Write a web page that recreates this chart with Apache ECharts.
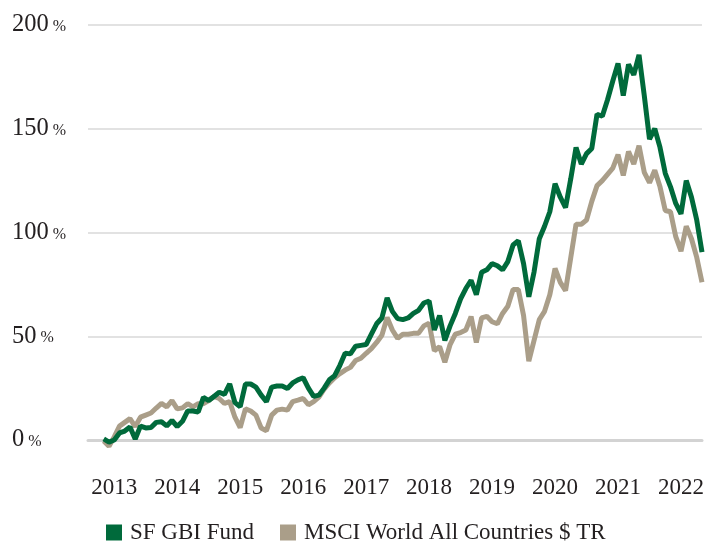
<!DOCTYPE html>
<html>
<head>
<meta charset="utf-8">
<script src="https://cdn.jsdelivr.net/npm/echarts@6/dist/echarts.min.js"></script>
<style>
html,body{margin:0;padding:0;background:#fff;}
#chart{width:707px;height:543px;}
</style>
</head>
<body>
<div id="chart"></div>
<script>
// Monthly categories (3 leading empty months for axis padding), Nov 2012 .. May 2022
const padMonths = ["2012-08", "2012-09", "2012-10"];
const startYear = 2012, startMonth = 11, monthCount = 115;
const months = [];
for (let i = 0; i < monthCount; i++) {
  const m0 = startMonth - 1 + i;
  const y = startYear + Math.floor(m0 / 12);
  const m = (m0 % 12) + 1;
  months.push(y + "-" + (m < 10 ? "0" + m : m));
}
const categories = padMonths.concat(months);

const yTicks = [0, 50, 100, 150, 200];

const sfGbiFund = [
  0.5, -1, 0, 3.4, 4.3, 6.3, 0.5, 6.7, 5.8, 6, 8.5, 8.8, 6.8, 9.4, 6.5, 9,
  14, 14, 13.5, 20.5, 19, 21, 23, 22, 27, 18, 16, 27, 27, 25.5, 21.6, 18.5,
  25.5, 26, 26, 24.8, 27.5, 29, 30, 25, 21, 21.6, 25, 29, 31, 36, 41.8, 41.5,
  45.2, 45.6, 46, 51, 56, 58.8, 68.5, 62, 58.5, 58, 58.8, 61, 62.5, 66, 67, 53,
  60, 48, 55, 61, 68, 73, 77, 70, 80.8, 82, 85, 84, 82, 86, 94, 96,
  85, 69, 81, 97, 103, 110, 123.5, 117, 112, 126, 141, 133, 138, 140.5, 157, 156,
  164, 173, 181.5, 166, 181, 176, 185.6, 166, 145, 150, 141, 128.5, 122, 114, 109, 125,
  117, 106, 90.5
];

const msciWorld = [
  -0.5, -3, 1.5, 6.7, 8.5, 10.3, 6.5, 11, 12, 13, 15.4, 17.6, 16, 19, 15, 15.5,
  17.5, 16, 17.5, 17.5, 19, 21, 20, 17.6, 18.5, 11, 6, 15, 14, 12, 5.8, 4.5,
  12, 14.4, 14.9, 14.4, 18.5, 19.2, 20, 17, 18.5, 20.7, 24.5, 27.5, 30, 32, 33.7, 35,
  38.3, 39.4, 41.8, 44, 47, 50.5, 59, 53, 49, 51, 51, 51.4, 51.5, 55, 56.3, 43,
  45, 37.5, 46, 51, 51.8, 53, 59.5, 47, 58.8, 59.6, 57, 56, 61, 64.5, 72.5, 72.5,
  60, 38, 48, 58, 62, 70, 82.7, 76, 72, 88, 104, 104, 106, 115, 122.6, 125,
  128, 131, 137.5, 127.5, 139, 133, 141.8, 129, 124, 130, 122, 110.6, 110, 98, 91, 103,
  97, 88, 76
];

function padded(arr) {
  return padMonths.map(() => null).concat(arr);
}

const FONT = "Liberation Serif";
const TEXT = "#231f20";
const GREEN = "#006a3b";
const TAN = "#aa9e89";

const chart = echarts.init(document.getElementById('chart'), null, {renderer: 'canvas'});
chart.setOption({
  animation: false,
  backgroundColor: '#fff',
  grid: {left: 88, right: 2, top: 25, bottom: 103, containLabel: false},
  legend: {
    data: ['SF GBI Fund', 'MSCI World All Countries $ TR'],
    left: 101, top: 516,
    icon: 'rect', itemWidth: 16, itemHeight: 16, itemGap: 26,
    textStyle: {fontFamily: FONT, fontSize: 23, color: TEXT, padding: [0, 0, 0, 3]}
  },
  xAxis: {
    type: 'category',
    data: categories,
    boundaryGap: false,
    axisLine: {show: true, onZero: true, lineStyle: {color: '#d3d3d3', width: 3}},
    axisTick: {show: false},
    splitLine: {show: false},
    axisLabel: {
      interval: (idx, val) => val.slice(5) === '01',
      formatter: (val) => val.slice(0, 4),
      margin: 36,
      fontFamily: FONT, fontSize: 23, color: TEXT
    }
  },
  yAxis: {
    type: 'value',
    min: yTicks[0], max: yTicks[yTicks.length - 1], interval: 50,
    axisLine: {show: false},
    axisTick: {show: false},
    splitLine: {show: true, lineStyle: {color: '#d9d9d9', width: 1.5}},
    axisLabel: {
      align: 'left',
      margin: 76,
      formatter: (v) => '{n|' + v + '}{p|%}',
      rich: {
        n: {fontFamily: FONT, fontSize: 24.5, color: TEXT},
        p: {fontFamily: FONT, fontSize: 16, color: TEXT, padding: [4, 0, 0, 4]}
      }
    }
  },
  series: [
    {
      name: 'MSCI World All Countries $ TR',
      type: 'line',
      data: padded(msciWorld),
      symbol: 'none',
      clip: false,
      connectNulls: false,
      itemStyle: {color: TAN},
      lineStyle: {color: TAN, width: 5},
      z: 2
    },
    {
      name: 'SF GBI Fund',
      type: 'line',
      data: padded(sfGbiFund),
      symbol: 'none',
      clip: false,
      connectNulls: false,
      itemStyle: {color: GREEN},
      lineStyle: {color: GREEN, width: 5},
      z: 3
    }
  ]
});
</script>
</body>
</html>
